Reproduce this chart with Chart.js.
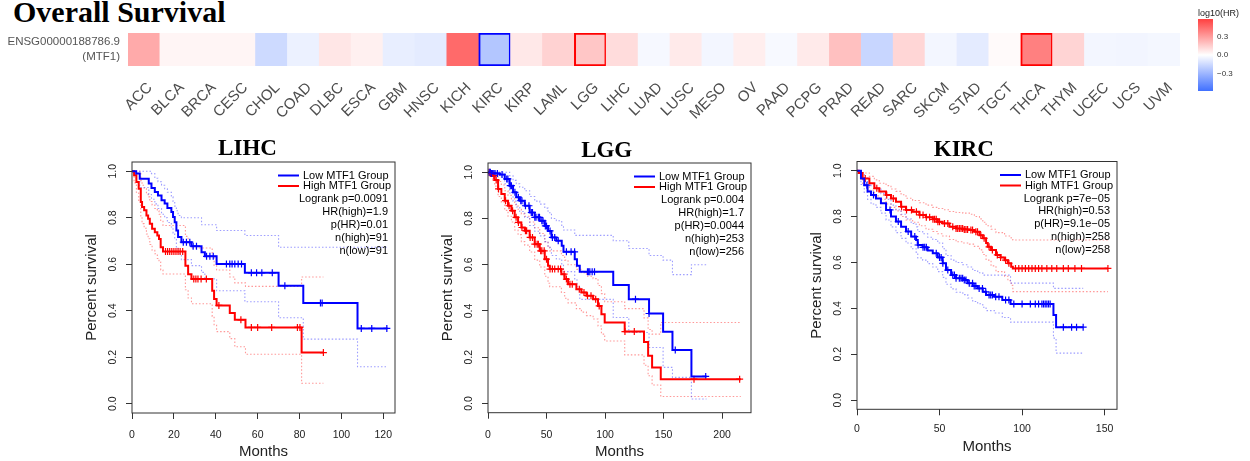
<!DOCTYPE html>
<html>
<head>
<meta charset="utf-8">
<script src="https://cdn.jsdelivr.net/npm/chart.js@4"></script>
<style>
body { margin: 0; width: 1250px; height: 461px; background: #fff; position: relative; overflow: hidden; }
canvas { position: absolute; }
#title { position: absolute; left: 13px; top: -3px; font: bold 30px "Liberation Serif", serif; line-height: 30px; color: #000; }
</style>
</head>
<body>
<div id="title">Overall Survival</div>
<canvas id="heat" width="1190" height="130" style="left:0;top:0"></canvas>
<canvas id="scale" width="60" height="100" style="left:1190px;top:0"></canvas>
<canvas id="lihc" width="345" height="331" style="left:60px;top:130px"></canvas>
<canvas id="lgg" width="345" height="331" style="left:416px;top:130px"></canvas>
<canvas id="kirc" width="342" height="331" style="left:785px;top:130px"></canvas>
<script>
// heatmap strip
const cancerTypes = ['ACC','BLCA','BRCA','CESC','CHOL','COAD','DLBC','ESCA','GBM','HNSC','KICH','KIRC','KIRP',
  'LAML','LGG','LIHC','LUAD','LUSC','MESO','OV','PAAD','PCPG','PRAD','READ','SARC','SKCM','STAD','TGCT',
  'THCA','THYM','UCEC','UCS','UVM'];
const log10HR = [0.258,0.03,0.03,0.03,-0.152,-0.058,0.076,0.046,-0.07,-0.082,0.452,-0.231,0.07,
  0.137,0.173,0.106,-0.027,0.064,-0.036,0.052,-0.024,0.064,0.191,-0.167,0.125,-0.036,-0.082,0.015,
  0.386,0.131,-0.036,-0.039,-0.033];
const significant = ['','','','','','','','','','','','low','','','high','','','','','','','','','','','','','',
  'high','','','',''];
const geneLabel = ['ENSG00000188786.9', '(MTF1)'];
const hrLimit = 0.58;
const scaleTicks = [-0.3, 0, 0.3];

// survival curves: [months, survival]
const lihcLow = [[0,1],[2,0.99],[3.7,0.968],[8,0.947],[9.3,0.928],[10.9,0.911],[12.4,0.896],[14.1,0.875],[15.6,0.861],
  [16.9,0.842],[18.8,0.825],[19.6,0.803],[20.4,0.781],[21.2,0.745],[22,0.717],[23.6,0.695],[28.4,0.678],[33.2,0.652],
  [34.8,0.634],[40.4,0.601],[53.9,0.563],[70,0.508],[81.8,0.433],[107.7,0.324],[122,0.324]];
const lihcLowUp = [[0,1],[8,1],[9.3,0.99],[10.9,0.97],[12.4,0.955],[14.1,0.94],[15.6,0.925],[16.9,0.91],[18.8,0.89],
  [19.6,0.87],[20.4,0.85],[21.2,0.83],[22,0.81],[23.6,0.8],[33.2,0.77],[40.4,0.745],[53.9,0.724],[70,0.673],[122,0.673]];
const lihcLowLo = [[0,1],[2,0.97],[3.7,0.93],[8,0.9],[9.3,0.88],[10.9,0.86],[12.4,0.84],[14.1,0.815],[15.6,0.8],
  [16.9,0.78],[18.8,0.76],[19.6,0.735],[20.4,0.71],[21.2,0.675],[22,0.645],[23.6,0.62],[28.4,0.594],[33.2,0.565],
  [34.8,0.537],[40.4,0.486],[53.9,0.439],[70,0.37],[81.8,0.278],[107.7,0.159],[122,0.159]];
const lihcLowCens = [24.5,26,27.6,29.2,30.8,35.6,37.2,38.8,45.1,46.7,47.8,49.1,50.7,52.3,57,59.5,62,67,73,90,90.8,109.5,114.5,121.7];
const lihcHigh = [[0,1],[1,0.983],[2.1,0.954],[3.2,0.925],[4.2,0.868],[4.8,0.846],[5.8,0.832],[6.9,0.81],[7.7,0.796],
  [8.5,0.774],[9.6,0.753],[10.9,0.738],[12.1,0.724],[12.9,0.709],[13.7,0.673],[14.8,0.655],[25.5,0.594],[26.8,0.557],
  [28.4,0.537],[38.3,0.486],[39.2,0.45],[40.4,0.423],[46.7,0.39],[49.1,0.361],[54.2,0.328],[81,0.22],[91.4,0.22]];
const lihcHighUp = [[0,1],[3.2,1],[4.2,0.96],[4.8,0.94],[5.8,0.925],[6.9,0.905],[7.7,0.89],[8.5,0.87],[9.6,0.855],
  [10.9,0.84],[12.1,0.83],[12.9,0.815],[13.7,0.785],[14.8,0.767],[25.5,0.72],[26.8,0.69],[28.4,0.67],[38.3,0.63],
  [39.2,0.595],[40.4,0.575],[46.7,0.545],[49.1,0.52],[54.2,0.505],[81,0.545],[91.4,0.545]];
const lihcHighLo = [[0,1],[1,0.95],[2.1,0.91],[3.2,0.87],[4.2,0.8],[4.8,0.775],[5.8,0.755],[6.9,0.73],[7.7,0.71],
  [8.5,0.685],[9.6,0.66],[10.9,0.645],[12.1,0.625],[12.9,0.61],[13.7,0.575],[14.8,0.558],[25.5,0.49],[26.8,0.455],
  [28.4,0.43],[38.3,0.375],[39.2,0.34],[40.4,0.31],[46.7,0.28],[49.1,0.245],[54.2,0.213],[81,0.088],[91.4,0.088]];
const lihcHighCens = [16,17,18,19,20,21,22,23,24.2,29.5,30.5,31.5,33,35.5,41.5,52,57,60,66.7,79,80.2,91.4];

const lggLow = [[0,1],[3,0.995],[10,0.99],[14.3,0.971],[18.5,0.942],[21.4,0.913],[24.2,0.892],[27.1,0.877],[31.4,0.855],
  [35.6,0.826],[39.9,0.805],[44.2,0.79],[48.5,0.768],[51.3,0.746],[54.2,0.718],[58.4,0.704],[63,0.682],[64.5,0.656],
  [74.1,0.624],[76,0.596],[78.4,0.57],[107,0.512],[120.3,0.451],[137.6,0.389],[149.6,0.31],[157.6,0.231],[173.8,0.117],[186.7,0.117]];
const lggLowUp = [[0,1],[14.3,1],[18.5,0.985],[21.4,0.965],[24.2,0.95],[27.1,0.935],[31.4,0.92],[35.6,0.895],[39.9,0.875],
  [44.2,0.862],[48.5,0.845],[51.3,0.825],[54.2,0.8],[58.4,0.79],[63,0.77],[64.5,0.75],[74.1,0.727],[107,0.704],
  [120.3,0.67],[137.6,0.64],[149.6,0.62],[157.6,0.557],[173.8,0.6],[186.7,0.6]];
const lggLowLo = [[0,1],[10,0.98],[14.3,0.95],[18.5,0.91],[21.4,0.875],[24.2,0.85],[27.1,0.83],[31.4,0.805],[35.6,0.77],
  [39.9,0.745],[44.2,0.725],[48.5,0.7],[51.3,0.675],[54.2,0.64],[58.4,0.625],[63,0.6],[64.5,0.57],[74.1,0.535],[76,0.505],
  [78.4,0.45],[107,0.372],[120.3,0.307],[137.6,0.242],[149.6,0.156],[157.6,0.113],[173.8,0.019],[186.7,0.019]];
const lggLowCens = [1,2,3,4,5,6,8,12,16,17,19,20,23,26,28,29,32,35,37,38,40,41,43,44,46,47,49,50,53,55,57,60,67,71,74,
  85,86,87,89,91,126,137.6,160,186];
const lggHigh = [[0,1],[2,0.995],[4.3,0.985],[5.7,0.966],[8.6,0.928],[11.4,0.906],[14.3,0.877],[17.1,0.855],[20,0.834],
  [22.8,0.805],[25.7,0.783],[28.5,0.761],[31.4,0.747],[35.6,0.718],[39.9,0.689],[44.2,0.66],[48.5,0.624],[51.3,0.596],
  [52.7,0.581],[62.7,0.559],[65.5,0.538],[68.4,0.516],[75.5,0.494],[79.8,0.48],[84.1,0.466],[89.8,0.451],[94,0.422],
  [96.9,0.386],[99.7,0.35],[116.8,0.311],[133.3,0.266],[136.8,0.206],[140.2,0.156],[147.6,0.105],[216,0.105]];
const lggHighUp = [[0,1],[4.3,1],[5.7,0.99],[8.6,0.96],[11.4,0.945],[14.3,0.92],[17.1,0.9],[20,0.885],[22.8,0.86],
  [25.7,0.84],[28.5,0.82],[31.4,0.81],[35.6,0.785],[39.9,0.76],[44.2,0.735],[48.5,0.7],[51.3,0.675],[52.7,0.66],
  [62.7,0.64],[65.5,0.62],[68.4,0.6],[75.5,0.58],[79.8,0.565],[84.1,0.55],[89.8,0.54],[94,0.51],[96.9,0.475],
  [99.7,0.44],[116.8,0.41],[133.3,0.37],[136.8,0.32],[140.2,0.3],[147.6,0.35],[216,0.35]];
const lggHighLo = [[0,1],[4.3,0.97],[5.7,0.94],[8.6,0.895],[11.4,0.87],[14.3,0.835],[17.1,0.81],[20,0.785],[22.8,0.75],
  [25.7,0.73],[28.5,0.7],[31.4,0.685],[35.6,0.655],[39.9,0.62],[44.2,0.59],[48.5,0.55],[51.3,0.52],[52.7,0.505],
  [62.7,0.48],[65.5,0.455],[68.4,0.435],[75.5,0.41],[79.8,0.395],[84.1,0.38],[89.8,0.365],[94,0.335],[96.9,0.3],
  [99.7,0.27],[116.8,0.21],[133.3,0.165],[136.8,0.12],[140.2,0.08],[147.6,0.03],[216,0.03]];
const lggHighCens = [1,2,3,5,7,9,15,18,21,24,26,29,32,33,36,38,40,42,43,45,46,48,50,53,55,57,60,62,65,67,70,72,78,82,
  85,88,92,95,117,125,176,215];

const kircLow = [[0,1],[2.4,0.966],[4.4,0.937],[6.4,0.909],[8.5,0.894],[11.5,0.879],[14.5,0.858],[17.6,0.829],[20.6,0.8],
  [23.6,0.778],[26.7,0.756],[29.7,0.735],[32.8,0.713],[35.8,0.698],[36.8,0.676],[39.8,0.666],[42.8,0.652],[45.9,0.64],
  [48.9,0.622],[51.9,0.596],[53.9,0.567],[57,0.545],[60,0.531],[64.1,0.523],[67.1,0.509],[70.1,0.497],[73.1,0.487],
  [76.2,0.472],[78.2,0.458],[83.2,0.451],[88,0.436],[93,0.419],[119,0.371],[120.6,0.318],[137,0.318]];
const kircLowUp = [[0,1],[2.4,0.99],[4.4,0.97],[6.4,0.945],[8.5,0.935],[11.5,0.92],[14.5,0.9],[17.6,0.875],[20.6,0.85],
  [23.6,0.83],[26.7,0.81],[29.7,0.79],[32.8,0.77],[35.8,0.755],[36.8,0.735],[39.8,0.725],[42.8,0.71],[45.9,0.7],
  [48.9,0.685],[51.9,0.66],[53.9,0.63],[57,0.61],[60,0.6],[64.1,0.59],[67.1,0.58],[70.1,0.565],[73.1,0.555],
  [76.2,0.545],[93,0.51],[119,0.487],[137,0.487]];
const kircLowLo = [[0,1],[2.4,0.94],[4.4,0.905],[6.4,0.875],[8.5,0.855],[11.5,0.84],[14.5,0.815],[17.6,0.785],[20.6,0.755],
  [23.6,0.73],[26.7,0.705],[29.7,0.685],[32.8,0.66],[35.8,0.645],[36.8,0.62],[39.8,0.61],[42.8,0.595],[45.9,0.58],
  [48.9,0.56],[51.9,0.535],[53.9,0.505],[57,0.485],[60,0.47],[64.1,0.46],[67.1,0.445],[70.1,0.43],[73.1,0.42],
  [76.2,0.405],[78.2,0.39],[83.2,0.38],[88,0.36],[93,0.34],[119,0.27],[120.6,0.205],[137,0.205]];
const kircLowCens = [6,10,20,25,31,35,37,40,41,42,48,50,51,52,55,58,59,60,62,63,64,65,66,68,70,71,72,74,76,78,80,81,82,
  84,86,90,92,95,100,105,108,110,112,113,114,115,116,117,125,130,133,137];
const kircHigh = [[0,1],[1,0.99],[3.4,0.966],[7.5,0.945],[10.5,0.923],[13.5,0.909],[17.6,0.894],[20.6,0.879],[23.6,0.865],
  [26.7,0.843],[29.7,0.829],[33.7,0.821],[37.8,0.807],[41.8,0.797],[45.9,0.788],[48.9,0.777],[51.9,0.77],[56,0.756],
  [60,0.748],[64.1,0.744],[68.1,0.741],[71.1,0.734],[74.2,0.719],[76.2,0.705],[78.2,0.685],[79.2,0.668],[81.2,0.654],
  [84.2,0.633],[87,0.622],[89.4,0.61],[91.4,0.596],[93.4,0.581],[94.4,0.574],[152,0.574]];
const kircHighUp = [[0,1],[3.4,0.99],[7.5,0.975],[10.5,0.96],[13.5,0.945],[17.6,0.935],[20.6,0.92],[23.6,0.91],[26.7,0.895],
  [29.7,0.88],[33.7,0.87],[37.8,0.86],[41.8,0.85],[45.9,0.84],[48.9,0.835],[51.9,0.83],[56,0.822],[60,0.818],[64.1,0.815],
  [68.1,0.81],[71.1,0.8],[74.2,0.79],[76.2,0.775],[78.2,0.76],[81.2,0.745],[84.2,0.73],[89.4,0.715],[93.4,0.7],
  [94.4,0.698],[152,0.698]];
const kircHighLo = [[0,1],[3.4,0.94],[7.5,0.915],[10.5,0.89],[13.5,0.875],[17.6,0.855],[20.6,0.84],[23.6,0.825],[26.7,0.8],
  [29.7,0.785],[33.7,0.775],[37.8,0.76],[41.8,0.745],[45.9,0.735],[48.9,0.725],[51.9,0.715],[56,0.7],[60,0.69],
  [64.1,0.685],[68.1,0.68],[71.1,0.67],[74.2,0.655],[76.2,0.635],[78.2,0.61],[81.2,0.585],[84.2,0.56],[89.4,0.54],
  [91.4,0.52],[93.4,0.5],[94.4,0.473],[152,0.473]];
const kircHighCens = [5,12,18,22,27,30,33,36,38,40,42,44,46,47,48,49,50,53,55,58,60,61,62,63,64,65,66,67,69,70,72,73,75,
  77,80,82,85,87,90,92,96,98,100,102,104,106,108,110,112,115,118,121,125,128,132,136,152];

const groupNames = ['Low MTF1 Group', 'High MTF1 Group'];
const lihcStats = ['Logrank p=0.0091', 'HR(high)=1.9', 'p(HR)=0.01', 'n(high)=91', 'n(low)=91'];
const lggStats = ['Logrank p=0.004', 'HR(high)=1.7', 'p(HR)=0.0044', 'n(high)=253', 'n(low)=256'];
const kircStats = ['Logrank p=7e\u221205', 'HR(high)=0.53', 'p(HR)=9.1e\u221205', 'n(high)=258', 'n(low)=258'];
const survTicks = [0, 0.2, 0.4, 0.6, 0.8, 1.0];

Chart.defaults.font.family = '"Liberation Sans", Arial, sans-serif';
Chart.defaults.color = '#222';
Chart.defaults.animation = false;

const blue = '#0000ff', red = '#ff0000';

function hrColor(v) {
  const t = Math.min(Math.abs(v) / hrLimit, 1);
  const end = v >= 0 ? [255, 64, 64] : [64, 112, 255];
  const c = end.map(e => Math.round(255 + (e - 255) * t));
  return 'rgb(' + c.join(',') + ')';
}

new Chart('heat', {
  type: 'bar',
  data: {
    labels: cancerTypes,
    datasets: [{
      data: cancerTypes.map(() => 1),
      backgroundColor: log10HR.map(hrColor),
      borderColor: significant.map(s => s === 'high' ? red : s === 'low' ? blue : 'rgba(0,0,0,0)'),
      borderWidth: significant.map(s => s ? 2 : 0),
      borderSkipped: false,
      barPercentage: 1,
      categoryPercentage: 1
    }]
  },
  options: {
    responsive: false,
    events: [],
    layout: { autoPadding: false, padding: { top: 33, right: 6, left: 0, bottom: 0 } },
    plugins: { legend: { display: false }, tooltip: { enabled: false } },
    scales: {
      x: {
        grid: { display: false, drawTicks: false },
        border: { display: false },
        ticks: { autoSkip: false, minRotation: 45, maxRotation: 45, padding: 13, labelOffset: 6,
          color: '#4d4d4d', font: { size: 15 } },
        afterFit: s => { s.height = 64; }
      },
      y: {
        min: 0, max: 1,
        grid: { display: false, drawTicks: false },
        border: { display: false },
        afterBuildTicks: s => { s.ticks = [{ value: 0.5 }]; },
        ticks: { callback: () => geneLabel, padding: 8, color: '#555', font: { size: 11.5, lineHeight: 1.27 } },
        afterFit: s => { s.width = 128; }
      }
    }
  }
});

new Chart('scale', {
  type: 'bar',
  data: {
    labels: [''],
    datasets: [{
      data: [[-hrLimit, hrLimit]],
      backgroundColor: ctx => {
        const a = ctx.chart.chartArea;
        if (!a) return '#fff';
        const g = ctx.chart.ctx.createLinearGradient(0, a.bottom, 0, a.top);
        g.addColorStop(0, hrColor(-hrLimit));
        g.addColorStop(0.5, '#ffffff');
        g.addColorStop(1, hrColor(hrLimit));
        return g;
      },
      barPercentage: 1,
      categoryPercentage: 1
    }]
  },
  options: {
    responsive: false,
    events: [],
    layout: { autoPadding: false, padding: { top: 19, left: 8, bottom: 9, right: 0 } },
    plugins: { legend: { display: false }, tooltip: { enabled: false } },
    scales: {
      x: { display: false },
      y: {
        position: 'right', min: -hrLimit, max: hrLimit,
        grid: { display: false, drawTicks: false },
        border: { display: false },
        afterBuildTicks: s => { s.ticks = scaleTicks.map(v => ({ value: v })); },
        ticks: { callback: v => v.toFixed(1).replace('-', '\u2212'), padding: 4, color: '#333', font: { size: 8 } },
        afterFit: s => { s.width = 37; }
      }
    }
  },
  plugins: [{
    id: 'scaleTitle',
    afterDraw(chart) {
      const { ctx, chartArea: a } = chart;
      ctx.save();
      ctx.font = '9px "Liberation Sans"';
      ctx.fillStyle = '#222';
      ctx.textBaseline = 'bottom';
      ctx.fillText('log10(HR)', a.left, a.top - 1);
      ctx.restore();
    }
  }]
});

function survivalAt(curve, t) {
  let s = curve[0][1];
  for (const [x, y] of curve) {
    if (x <= t) s = y; else break;
  }
  return s;
}

const kmDecor = {
  id: 'kmDecor',
  afterDraw(chart, args, o) {
    const { ctx, chartArea: a } = chart;
    ctx.save();
    ctx.strokeStyle = '#333';
    ctx.lineWidth = 1;
    ctx.strokeRect(a.left, a.top, a.right - a.left, a.bottom - a.top);
    ctx.fillStyle = '#000';
    ctx.font = 'bold 23px "Liberation Serif"';
    ctx.textAlign = 'center';
    ctx.fillText(o.title, o.titleX, o.titleY);
    ctx.font = '11px "Liberation Sans"';
    ctx.textBaseline = 'middle';
    groupNames.forEach((g, i) => {
      const y = a.top + 13.5 + i * 10.5;
      ctx.strokeStyle = i ? red : blue;
      ctx.lineWidth = 2;
      ctx.beginPath();
      ctx.moveTo(a.right - 117, y);
      ctx.lineTo(a.right - 96, y);
      ctx.stroke();
      ctx.textAlign = 'left';
      ctx.fillText(g, a.right - 92, y);
    });
    ctx.textAlign = 'right';
    o.stats.forEach((s, i) => ctx.fillText(s, a.right - 7, a.top + 37 + i * 12.9));
    ctx.restore();
  }
};

function kmChart(id, p) {
  const pts = c => c.map(([x, y]) => ({ x, y }));
  // KM: stay flat until the event time, then drop
  const curve = (c, color) => ({ data: pts(c), borderColor: color, borderWidth: 2, stepped: 'before', pointRadius: 0 });
  const band = (c, color) => ({ data: pts(c), borderColor: color, borderWidth: 1.1, borderDash: [1.5, 2], stepped: 'before', pointRadius: 0 });
  const marks = (times, c, color) => ({
    data: times.map(t => ({ x: t, y: survivalAt(c, t) })),
    showLine: false, pointStyle: 'cross', pointRadius: 3.5, pointBorderWidth: 1.2, pointBorderColor: color
  });
  new Chart(id, {
    type: 'line',
    data: {
      datasets: [
        curve(p.low, blue), curve(p.high, red),
        marks(p.lowCens, p.low, blue), marks(p.highCens, p.high, red),
        band(p.lowUp, 'rgba(60,60,255,0.5)'), band(p.lowLo, 'rgba(60,60,255,0.5)'),
        band(p.highUp, 'rgba(255,50,50,0.5)'), band(p.highLo, 'rgba(255,50,50,0.5)')
      ]
    },
    options: {
      responsive: false,
      events: [],
      layout: { autoPadding: false, padding: { top: p.top, right: 10, left: 0, bottom: 0 } },
      plugins: {
        legend: { display: false }, tooltip: { enabled: false },
        kmDecor: { title: p.title, titleX: p.titleX, titleY: p.titleY, stats: p.stats }
      },
      scales: {
        x: {
          type: 'linear', min: 0, max: p.xMax,
          afterBuildTicks: s => { s.ticks = p.xTicks.map(v => ({ value: v })); },
          grid: { drawOnChartArea: false, drawTicks: true, tickLength: 6, color: '#333' },
          border: { display: false },
          ticks: { padding: p.xPad, color: '#222', font: { size: 10.5 } },
          title: { display: true, text: 'Months', color: '#222', font: { size: 15 }, padding: { top: 0, bottom: p.xTitlePad } },
          afterFit: s => { s.height = p.xHeight; }
        },
        y: {
          min: -0.04, max: 1.04,
          afterBuildTicks: s => { s.ticks = survTicks.map(v => ({ value: v })); },
          grid: { drawOnChartArea: false, drawTicks: true, tickLength: 6, color: '#333' },
          border: { display: false },
          ticks: { minRotation: 90, maxRotation: 90, crossAlign: 'center', padding: 5.5, color: '#222',
            font: { size: 10.5 }, callback: v => v.toFixed(1) },
          title: { display: true, text: 'Percent survival', color: '#222', font: { size: 15 }, padding: { top: 23, bottom: 0 } },
          afterFit: s => { s.width = 72; }
        }
      }
    },
    plugins: [kmDecor]
  });
}

kmChart('lihc', {
  title: 'LIHC', titleX: 187.5, titleY: 25, stats: lihcStats,
  low: lihcLow, lowUp: lihcLowUp, lowLo: lihcLowLo, lowCens: lihcLowCens,
  high: lihcHigh, highUp: lihcHighUp, highLo: lihcHighLo, highCens: lihcHighCens,
  xMax: 125.6, xTicks: [0, 20, 40, 60, 80, 100, 120], top: 32, xHeight: 48, xPad: 9.7, xTitlePad: 0.3
});
kmChart('lgg', {
  title: 'LGG', titleX: 190.7, titleY: 26.7, stats: lggStats,
  low: lggLow, lowUp: lggLowUp, lowLo: lggLowLo, lowCens: lggLowCens,
  high: lggHigh, highUp: lggHighUp, highLo: lggHighLo, highCens: lggHighCens,
  xMax: 224.7, xTicks: [0, 50, 100, 150, 200], top: 33, xHeight: 48.3, xPad: 10, xTitlePad: 0.3
});
kmChart('kirc', {
  title: 'KIRC', titleX: 178.8, titleY: 26, stats: kircStats,
  low: kircLow, lowUp: kircLowUp, lowLo: kircLowLo, lowCens: kircLowCens,
  high: kircHigh, highUp: kircHighUp, highLo: kircHighLo, highCens: kircHighCens,
  xMax: 157.5, xTicks: [0, 50, 100, 150], top: 31.5, xHeight: 51.7, xPad: 7.7, xTitlePad: 5.3
});
</script>
</body>
</html>
